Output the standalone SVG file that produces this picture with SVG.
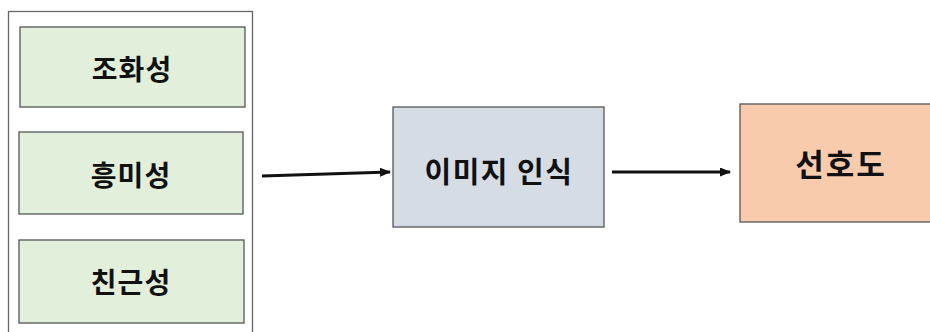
<svg xmlns="http://www.w3.org/2000/svg" width="930" height="332" viewBox="0 0 930 332">
<defs>
<style>
.box{stroke:#555;stroke-width:1.3}
.g{fill:#E2EFDA}
.t{font-family:"Noto Sans CJK KR","Noto Sans",sans-serif;font-weight:bold;fill:#111;text-anchor:middle;dominant-baseline:central}
.c{stroke:#111;stroke-width:3;fill:none}
</style>
<marker id="ah" markerWidth="11" markerHeight="9" refX="10" refY="4.5" orient="auto" markerUnits="userSpaceOnUse">
<path d="M0,0 L11,4.5 L0,9 Z" fill="#111"/>
</marker>
</defs>
<rect width="930" height="332" fill="#fff"/>
<g id="group">
<rect x="8.5" y="11.5" width="244" height="330" fill="#fff" stroke="#666" stroke-width="1.3"/>
</g>
<g id="n1">
<rect class="box g" x="20" y="27" width="225" height="80"/>
<text class="t" x="132" y="68" font-size="28" letter-spacing="1">조화성</text>
</g>
<g id="n2">
<rect class="box g" x="19" y="132" width="224" height="82"/>
<text class="t" x="131" y="174" font-size="28" letter-spacing="1">흥미성</text>
</g>
<g id="n3">
<rect class="box g" x="19" y="240" width="225" height="83"/>
<text class="t" x="131" y="281" font-size="28" letter-spacing="1">친근성</text>
</g>
<g id="n4">
<rect class="box" x="393" y="107" width="211" height="120" fill="#D6DCE4"/>
<text class="t" x="499" y="170" font-size="29" letter-spacing="1.5">이미지 인식</text>
</g>
<g id="n5">
<rect class="box" x="740" y="104" width="200" height="118" fill="#F8CBAD"/>
<text class="t" x="841" y="162" font-size="31" letter-spacing="2">선호도</text>
</g>
<g id="connectors">
<line class="c" x1="262" y1="176" x2="390" y2="172" marker-end="url(#ah)"/>
<line class="c" x1="612" y1="172" x2="730" y2="172" marker-end="url(#ah)"/>
</g>
</svg>
